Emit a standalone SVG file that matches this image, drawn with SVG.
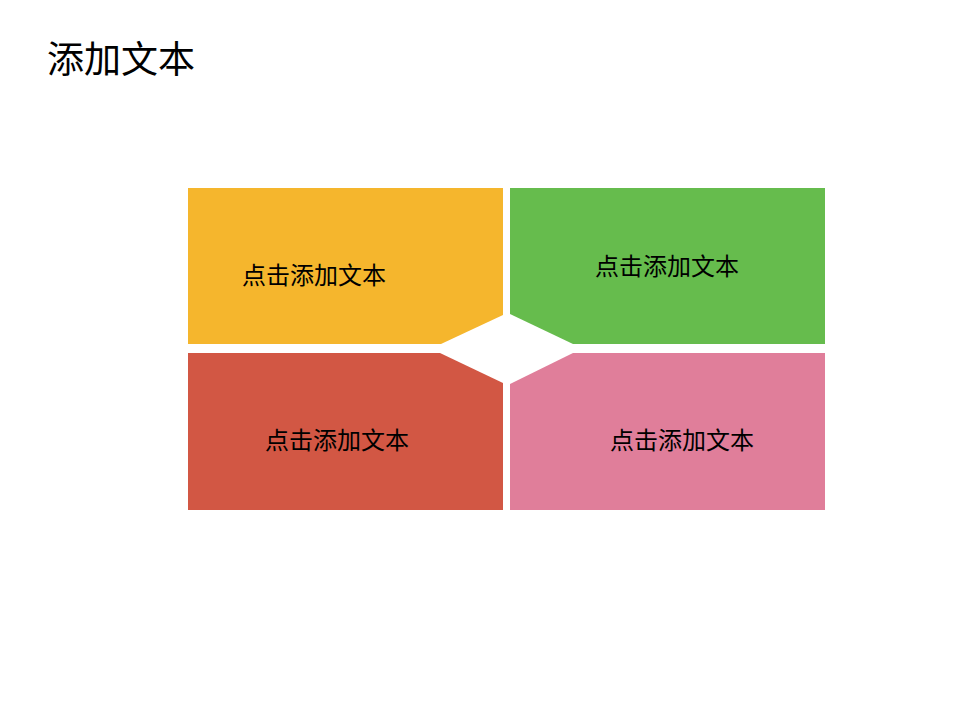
<svg xmlns="http://www.w3.org/2000/svg" width="960" height="720" viewBox="0 0 960 720">
<style>
text{font-family:"Noto Sans CJK SC","Microsoft YaHei",sans-serif;fill:#000;text-anchor:middle}
.lbl{font-size:24px}
.title{font-size:37px;text-anchor:start}
</style>
<rect width="960" height="720" fill="#fff"/>
<text class="title" x="47" y="73">添加文本</text>
<g id="node-yellow">
<polygon points="188,188 503,188 503,315 441,344 188,344" fill="#F5B62D"/>
<text class="lbl" x="314" y="284">点击添加文本</text>
</g>
<g id="node-green">
<polygon points="510,188 825,188 825,344 573,344 510,314" fill="#66BC4D"/>
<text class="lbl" x="667" y="275">点击添加文本</text>
</g>
<g id="node-red">
<polygon points="188,353 440,353 503,383 503,510 188,510" fill="#D25744"/>
<text class="lbl" x="337" y="449">点击添加文本</text>
</g>
<g id="node-pink">
<polygon points="573,353 825,353 825,510 510,510 510,384" fill="#E07E9A"/>
<text class="lbl" x="682" y="449">点击添加文本</text>
</g>
<g id="connectors"></g>
</svg>
